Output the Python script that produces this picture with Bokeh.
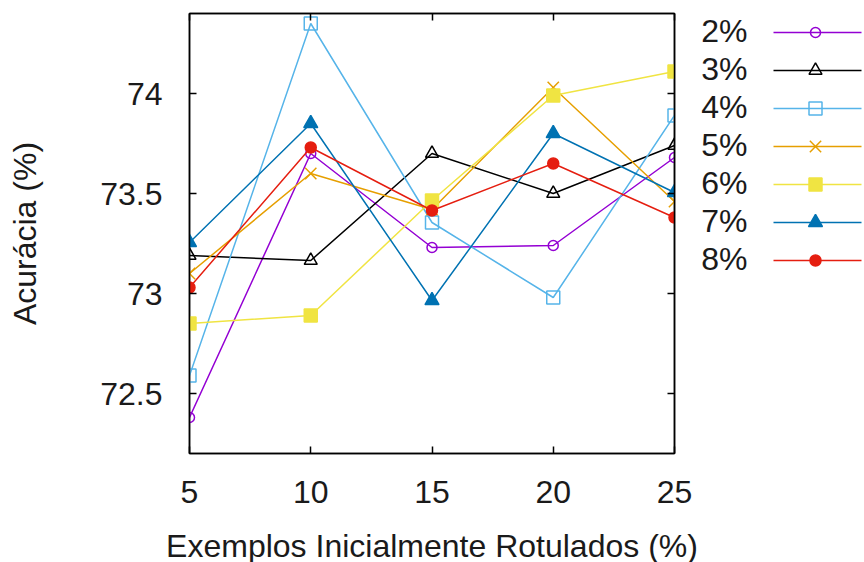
from bokeh.plotting import figure
from bokeh.models import Range1d, LinearAxis, FixedTicker
from bokeh.layouts import row
from bokeh.core.properties import value
from bokeh.embed import file_html
from bokeh.resources import INLINE

# ---- data ----
x_vals = [5, 10, 15, 20, 25]
series_names = ["2%", "3%", "4%", "5%", "6%", "7%", "8%"]
s2 = [72.38, 73.70, 73.23, 73.24, 73.68]
s3 = [73.19, 73.165, 73.70, 73.50, 73.74]
s4 = [72.59, 74.35, 73.355, 72.98, 73.89]
s5 = [73.10, 73.60, 73.42, 74.03, 73.46]
s6 = [72.85, 72.89, 73.465, 73.99, 74.11]
s7 = [73.255, 73.85, 72.965, 73.80, 73.505]
s8 = [73.03, 73.73, 73.415, 73.65, 73.38]
series_values = [s2, s3, s4, s5, s6, s7, s8]
y_ticks = [72.5, 73, 73.5, 74]
y_tick_labels = ["72.5", "73", "73.5", "74"]
x_ticks = [5, 10, 15, 20, 25]

# ---- styles ----
colors = ["#9400D3", "#000000", "#56B4E9", "#E69F00", "#F0E442", "#0072B2", "#E51E10"]
markers = ["circle", "triangle", "square", "x", "square", "triangle", "circle"]
filled = [False, False, False, False, True, True, True]
msizes = [10, 13, 13, 16, 13, 14, 11]
FONT = "Liberation Sans"
FS = "32px"
TXT = "#1a1a1a"

TOTAL_H = 562
MB_L, MB_R, MB_T = 189, 23, 13
FW, FH = 485, 440
MB_B = TOTAL_H - MB_T - FH

p = figure(width=MB_L + FW + MB_R, height=TOTAL_H,
           output_backend="svg", toolbar_location=None,
           x_range=Range1d(5, 25), y_range=Range1d(72.2, 74.4),
           frame_width=FW, frame_height=FH,
           min_border_left=MB_L, min_border_right=MB_R,
           min_border_top=MB_T, min_border_bottom=MB_B)
p.grid.visible = False
p.outline_line_color = "black"
p.outline_line_width = 1.5
p.background_fill_color = "white"
p.border_fill_color = "white"

for vals, c, m, f, s in zip(series_values, colors, markers, filled, msizes):
    p.line(x_vals, vals, line_color=c, line_width=1.5)
    p.scatter(x_vals, vals, marker=m, size=s, line_color=c,
              fill_color=(c if f else None), line_width=1.5)

def style_axis(ax):
    ax.axis_line_color = "black"
    ax.axis_line_width = 1.5
    ax.major_tick_line_color = "black"
    ax.major_tick_line_width = 1.5
    ax.major_tick_in = 7
    ax.major_tick_out = 0
    ax.minor_tick_line_color = None
    ax.major_label_text_font = FONT
    ax.major_label_text_font_size = FS
    ax.major_label_text_color = TXT
    ax.axis_label_text_font = FONT
    ax.axis_label_text_font_size = FS
    ax.axis_label_text_font_style = "normal"
    ax.axis_label_text_color = TXT

xa = p.xaxis[0]
ya = p.yaxis[0]
style_axis(xa)
style_axis(ya)
xa.ticker = FixedTicker(ticks=x_ticks)
ya.ticker = FixedTicker(ticks=y_ticks)
ya.major_label_overrides = {t: l for t, l in zip(y_ticks, y_tick_labels)}
xa.axis_label = "Exemplos Inicialmente Rotulados (%)"
ya.axis_label = "Acurácia (%)"
xa.major_label_standoff = 27
xa.axis_label_standoff = 22
ya.major_label_standoff = 27
ya.axis_label_standoff = 54

top = LinearAxis(ticker=FixedTicker(ticks=x_ticks))
right = LinearAxis(ticker=FixedTicker(ticks=y_ticks))
for ax, ticks in ((top, x_ticks), (right, y_ticks)):
    style_axis(ax)
    ax.major_label_overrides = {t: "" for t in ticks}
    ax.major_label_standoff = 0
p.add_layout(top, "above")
p.add_layout(right, "right")

# ---- legend (label first, then sample), separate panel ----
LW = 864 - (MB_L + FW + MB_R)
lg = figure(width=LW, height=TOTAL_H, frame_width=LW, frame_height=TOTAL_H,
            output_backend="svg", toolbar_location=None,
            x_range=Range1d(0, LW), y_range=Range1d(TOTAL_H, 0),
            x_axis_location=None, y_axis_location=None,
            min_border=0, min_border_left=0, min_border_right=0,
            min_border_top=0, min_border_bottom=0)
lg.grid.visible = False
lg.outline_line_color = None
lg.border_fill_color = "white"

idx = list(range(len(series_names)))
ly = [17 + 38 * i for i in idx]
lg.text(x=[50] * len(idx), y=ly, text=series_names,
        text_font=value(FONT), text_font_size=FS, text_align="right",
        text_baseline="middle", text_color=TXT)
for i, c, m, f, s in zip(idx, colors, markers, filled, msizes):
    yy = ly[i] + 2
    lg.line([76, 164], [yy, yy], line_color=c, line_width=1.5)
    lg.scatter([118], [yy], marker=m, size=s, line_color=c,
               fill_color=(c if f else None), line_width=1.5)

layout = row(p, lg)
open("out.html", "w").write(file_html(layout, INLINE))
